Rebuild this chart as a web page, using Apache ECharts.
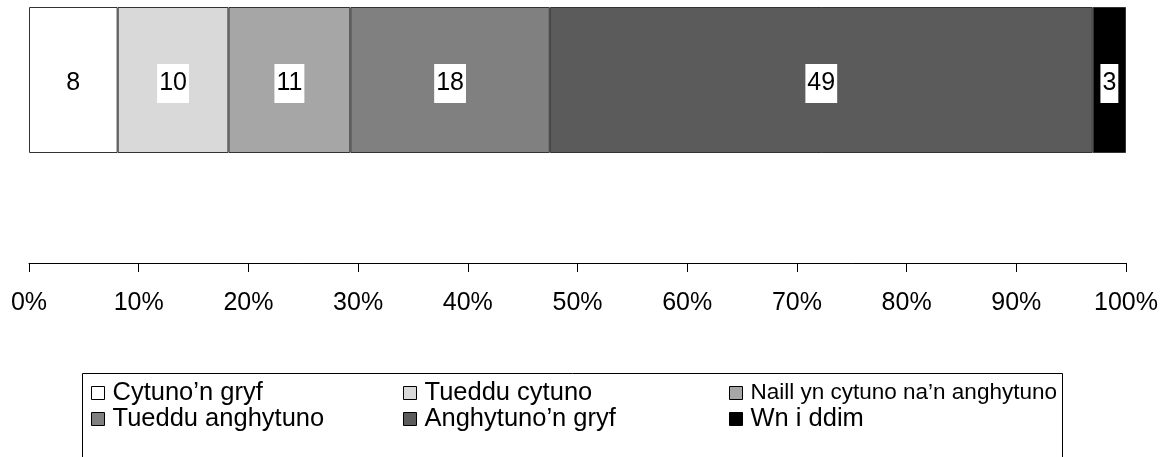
<!DOCTYPE html>
<html>
<head>
<meta charset="utf-8">
<script src="https://cdn.jsdelivr.net/npm/echarts@6/dist/echarts.min.js"></script>
<style>
  html, body { margin: 0; padding: 0; background: #fff; }
  #myChart { width: 1174px; height: 457px; }
</style>
</head>
<body>
<div id="myChart"></div>
<script>
  // data
  let names = ['Cytuno\u2019n gryf', 'Tueddu cytuno', 'Naill yn cytuno na\u2019n anghytuno',
               'Tueddu anghytuno', 'Anghytuno\u2019n gryf', 'Wn i ddim'];
  let values = [8, 10, 11, 18, 49, 3];
  let colors = ['#ffffff', '#d9d9d9', '#a6a6a6', '#808080', '#5b5b5b', '#000000'];
  let tickValues = [0, 10, 20, 30, 40, 50, 60, 70, 80, 90, 100];

  let total = values.reduce((a, b) => a + b, 0);
  let font = '"Liberation Sans", Arial, sans-serif';

  let series = names.map((n, i) => ({
    name: n,
    type: 'bar',
    stack: 'all',
    xAxisIndex: 1,
    barWidth: '100%',
    data: [values[i]],
    itemStyle: { color: colors[i], borderColor: '#333', borderWidth: 1 },
    label: {
      show: true,
      position: 'inside',
      color: '#000',
      fontFamily: font,
      fontSize: 25,
      lineHeight: 27,
      backgroundColor: '#fff',
      padding: [2, 2, 10, 2],
      offset: [0, 3.5]
    }
  }));

  // legend: three columns, two rows
  let legendPos = [
    [91, 392], [403, 392], [729, 392],
    [91, 418], [403, 418], [729, 418]
  ];
  let legends = names.map((n, i) => ({
    data: [{ name: n }],
    left: legendPos[i][0],
    top: legendPos[i][1] - 13,
    padding: 0,
    icon: 'rect',
    itemWidth: 13,
    itemHeight: 13,
    itemGap: 0,
    selectedMode: false,
    itemStyle: { borderColor: '#000', borderWidth: 1 },
    textStyle: {
      fontFamily: font,
      fontSize: i === 2 ? 22.5 : 25.5,
      lineHeight: 28,
      color: '#000',
      padding: [0, 0, 0, 3]
    }
  }));

  let option = {
    animation: false,
    backgroundColor: '#fff',
    grid: { left: 29, right: 48, top: 7, height: 146 },
    legend: legends,
    graphic: [{
      type: 'rect',
      shape: { x: 82.5, y: 373.5, width: 980, height: 120 },
      style: { fill: 'none', stroke: '#000', lineWidth: 1 },
      z: 0
    }],
    yAxis: {
      type: 'category',
      data: [''],
      show: false
    },
    xAxis: [
      {
        type: 'value',
        min: tickValues[0],
        max: tickValues[tickValues.length - 1],
        interval: 10,
        position: 'bottom',
        offset: 110,
        splitLine: { show: false },
        axisLine: { show: true, lineStyle: { color: '#000', width: 1 } },
        axisTick: { show: true, length: 9, lineStyle: { color: '#000' } },
        axisLabel: {
          formatter: '{value}%',
          color: '#000',
          fontFamily: font,
          fontSize: 25,
          margin: 28
        }
      },
      {
        type: 'value',
        min: 0,
        max: total,
        show: false,
        position: 'top'
      }
    ],
    series: series
  };

  let myChart = echarts.init(document.getElementById('myChart'));
  myChart.setOption(option);
</script>
</body>
</html>
